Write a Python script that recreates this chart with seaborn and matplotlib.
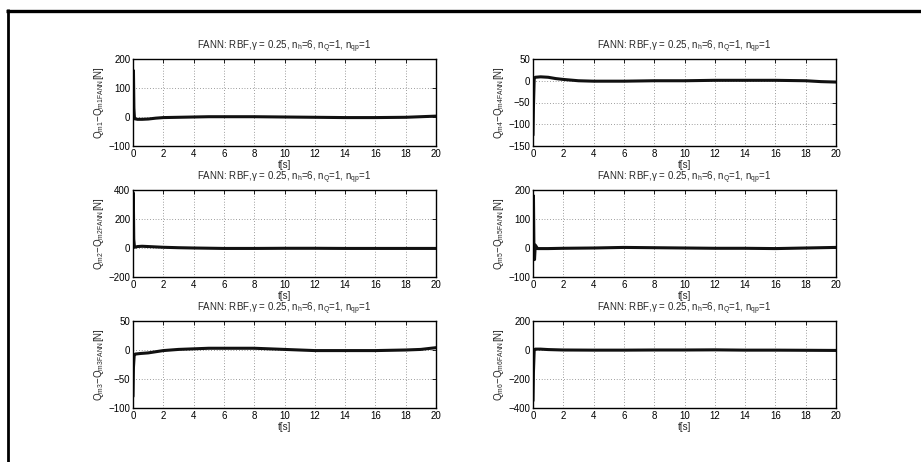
import numpy as np
import pandas as pd
import matplotlib
matplotlib.use("Agg")
import matplotlib.pyplot as plt
from matplotlib.lines import Line2D
import seaborn as sns

# ---- data ----
t_m1 = [0, 0.03, 0.06, 0.1, 0.3, 0.6, 1.0, 1.5, 2, 3, 4, 5, 6, 8, 10, 12, 14, 16, 18, 19, 20]
q_m1 = [20, 160, 30, -6, -8, -8, -7, -4, -2, -1, 0, 1, 1, 1, 0, -1, -2, -2, -1, 1, 3]

t_m4 = [0, 0.03, 0.08, 0.15, 0.5, 1.0, 1.5, 2, 3, 4, 6, 8, 10, 12, 14, 16, 18, 19, 20]
q_m4 = [-125, -60, 6, 8, 9, 8, 5, 3, 0, -1, -1, 0, 0, 1, 1, 1, 0, -2, -3]

t_m2 = [0, 0.02, 0.05, 0.1, 0.3, 0.6, 1.0, 2, 3, 4, 6, 8, 10, 12, 14, 16, 18, 20]
q_m2 = [50, 380, 60, 5, 10, 12, 10, 5, 2, 0, -3, -3, -2, -2, -3, -3, -3, -3]

t_m5 = [0, 0.03, 0.06, 0.1, 0.15, 0.3, 1.0, 2, 4, 6, 8, 10, 12, 14, 16, 18, 20]
q_m5 = [0, 180, 10, -40, 10, -2, -2, -1, 0, 2, 1, 0, -1, -1, -2, 0, 2]

t_m3 = [0, 0.03, 0.08, 0.15, 0.5, 1.0, 2, 3, 4, 5, 6, 8, 10, 12, 14, 16, 18, 19, 20]
q_m3 = [-80, -30, -9, -7, -6, -5, -1, 1, 2, 3, 3, 3, 1, -1, -1, -1, 0, 1, 4]

t_m6 = [0, 0.03, 0.08, 0.15, 0.5, 1.0, 2, 4, 6, 8, 10, 12, 14, 16, 18, 20]
q_m6 = [-350, -150, 2, 6, 6, 3, 0, -1, -1, 0, 0, 1, -1, -1, -2, -3]

y_limits = {"m1": (-100, 200), "m2": (-200, 400), "m3": (-100, 50),
            "m4": (-150, 50), "m5": (-100, 200), "m6": (-400, 200)}
y_ticks = {"m1": [-100, 0, 100, 200], "m2": [-200, 0, 200, 400], "m3": [-100, -50, 0, 50],
           "m4": [-150, -100, -50, 0, 50], "m5": [-100, 0, 100, 200], "m6": [-400, -200, 0, 200]}
x_ticks = [0, 2, 4, 6, 8, 10, 12, 14, 16, 18, 20]
title = r"FANN: RBF,$\mathregular{\gamma}$ = 0.25, n$_\mathregular{h}$=6, n$_\mathregular{Q}$=1, n$_\mathregular{qp}$=1"

series = {"m1": (t_m1, q_m1), "m2": (t_m2, q_m2), "m3": (t_m3, q_m3),
          "m4": (t_m4, q_m4), "m5": (t_m5, q_m5), "m6": (t_m6, q_m6)}

sns.set_style("white")
plt.rcParams['font.family'] = ['Liberation Sans', 'DejaVu Sans']
plt.rcParams['mathtext.fontset'] = 'custom'
plt.rcParams['mathtext.rm'] = 'Liberation Sans'
plt.rcParams['mathtext.it'] = 'Liberation Sans'

W, H = 921, 462
fig = plt.figure(figsize=(W / 100, H / 100), dpi=100)
fig.patch.set_facecolor("white")

lefts = {0: 133, 1: 533}
tops = [59, 190, 321]
aw, ah = 303, 87
layout = [["m1", "m4"], ["m2", "m5"], ["m3", "m6"]]

for r, row in enumerate(layout):
    for c, key in enumerate(row):
        x0 = lefts[c] / W
        y0 = 1 - (tops[r] + ah) / H
        ax = fig.add_axes([x0, y0, aw / W, ah / H])
        t, q = series[key]
        df = pd.DataFrame({"t": t, "q": q})
        sns.lineplot(data=df, x="t", y="q", ax=ax, color="#111111", linewidth=2.2,
                     estimator=None, sort=False)
        ax.set_xlim(0, 20)
        ax.set_ylim(*y_limits[key])
        ax.set_xticks(x_ticks)
        ax.set_yticks(y_ticks[key])
        ax.set_yticklabels([str(v).replace("-", "\u2212") for v in y_ticks[key]])
        ax.tick_params(direction="in", length=3, width=0.6, labelsize=7, pad=2,
                       top=True, right=True, colors="black")
        ax.grid(True, color="#444444", linestyle=(0, (1, 3)), linewidth=0.5)
        for s in ax.spines.values():
            s.set_visible(True)
            s.set_color("black")
            s.set_linewidth(1.0)
        ax.set_xlabel("t[s]", fontsize=7, labelpad=1)
        n = key[1]
        ax.set_ylabel(r"Q$_\mathregular{m%s}$$-$Q$_\mathregular{m%sFANN}$[N]" % (n, n),
                      fontsize=7, labelpad=2)
        ax.set_title(title, fontsize=7, pad=7)

# outer frame lines (top and left)
fig.add_artist(Line2D([6 / W, 1], [1 - 10.5 / H, 1 - 10.5 / H], color="black",
                      linewidth=2.4, solid_capstyle="butt", transform=fig.transFigure))
fig.add_artist(Line2D([7.5 / W, 7.5 / W], [1 - 9 / H, 0], color="black",
                      linewidth=2.0, solid_capstyle="butt", transform=fig.transFigure))

fig.savefig("out.png", dpi=100)
